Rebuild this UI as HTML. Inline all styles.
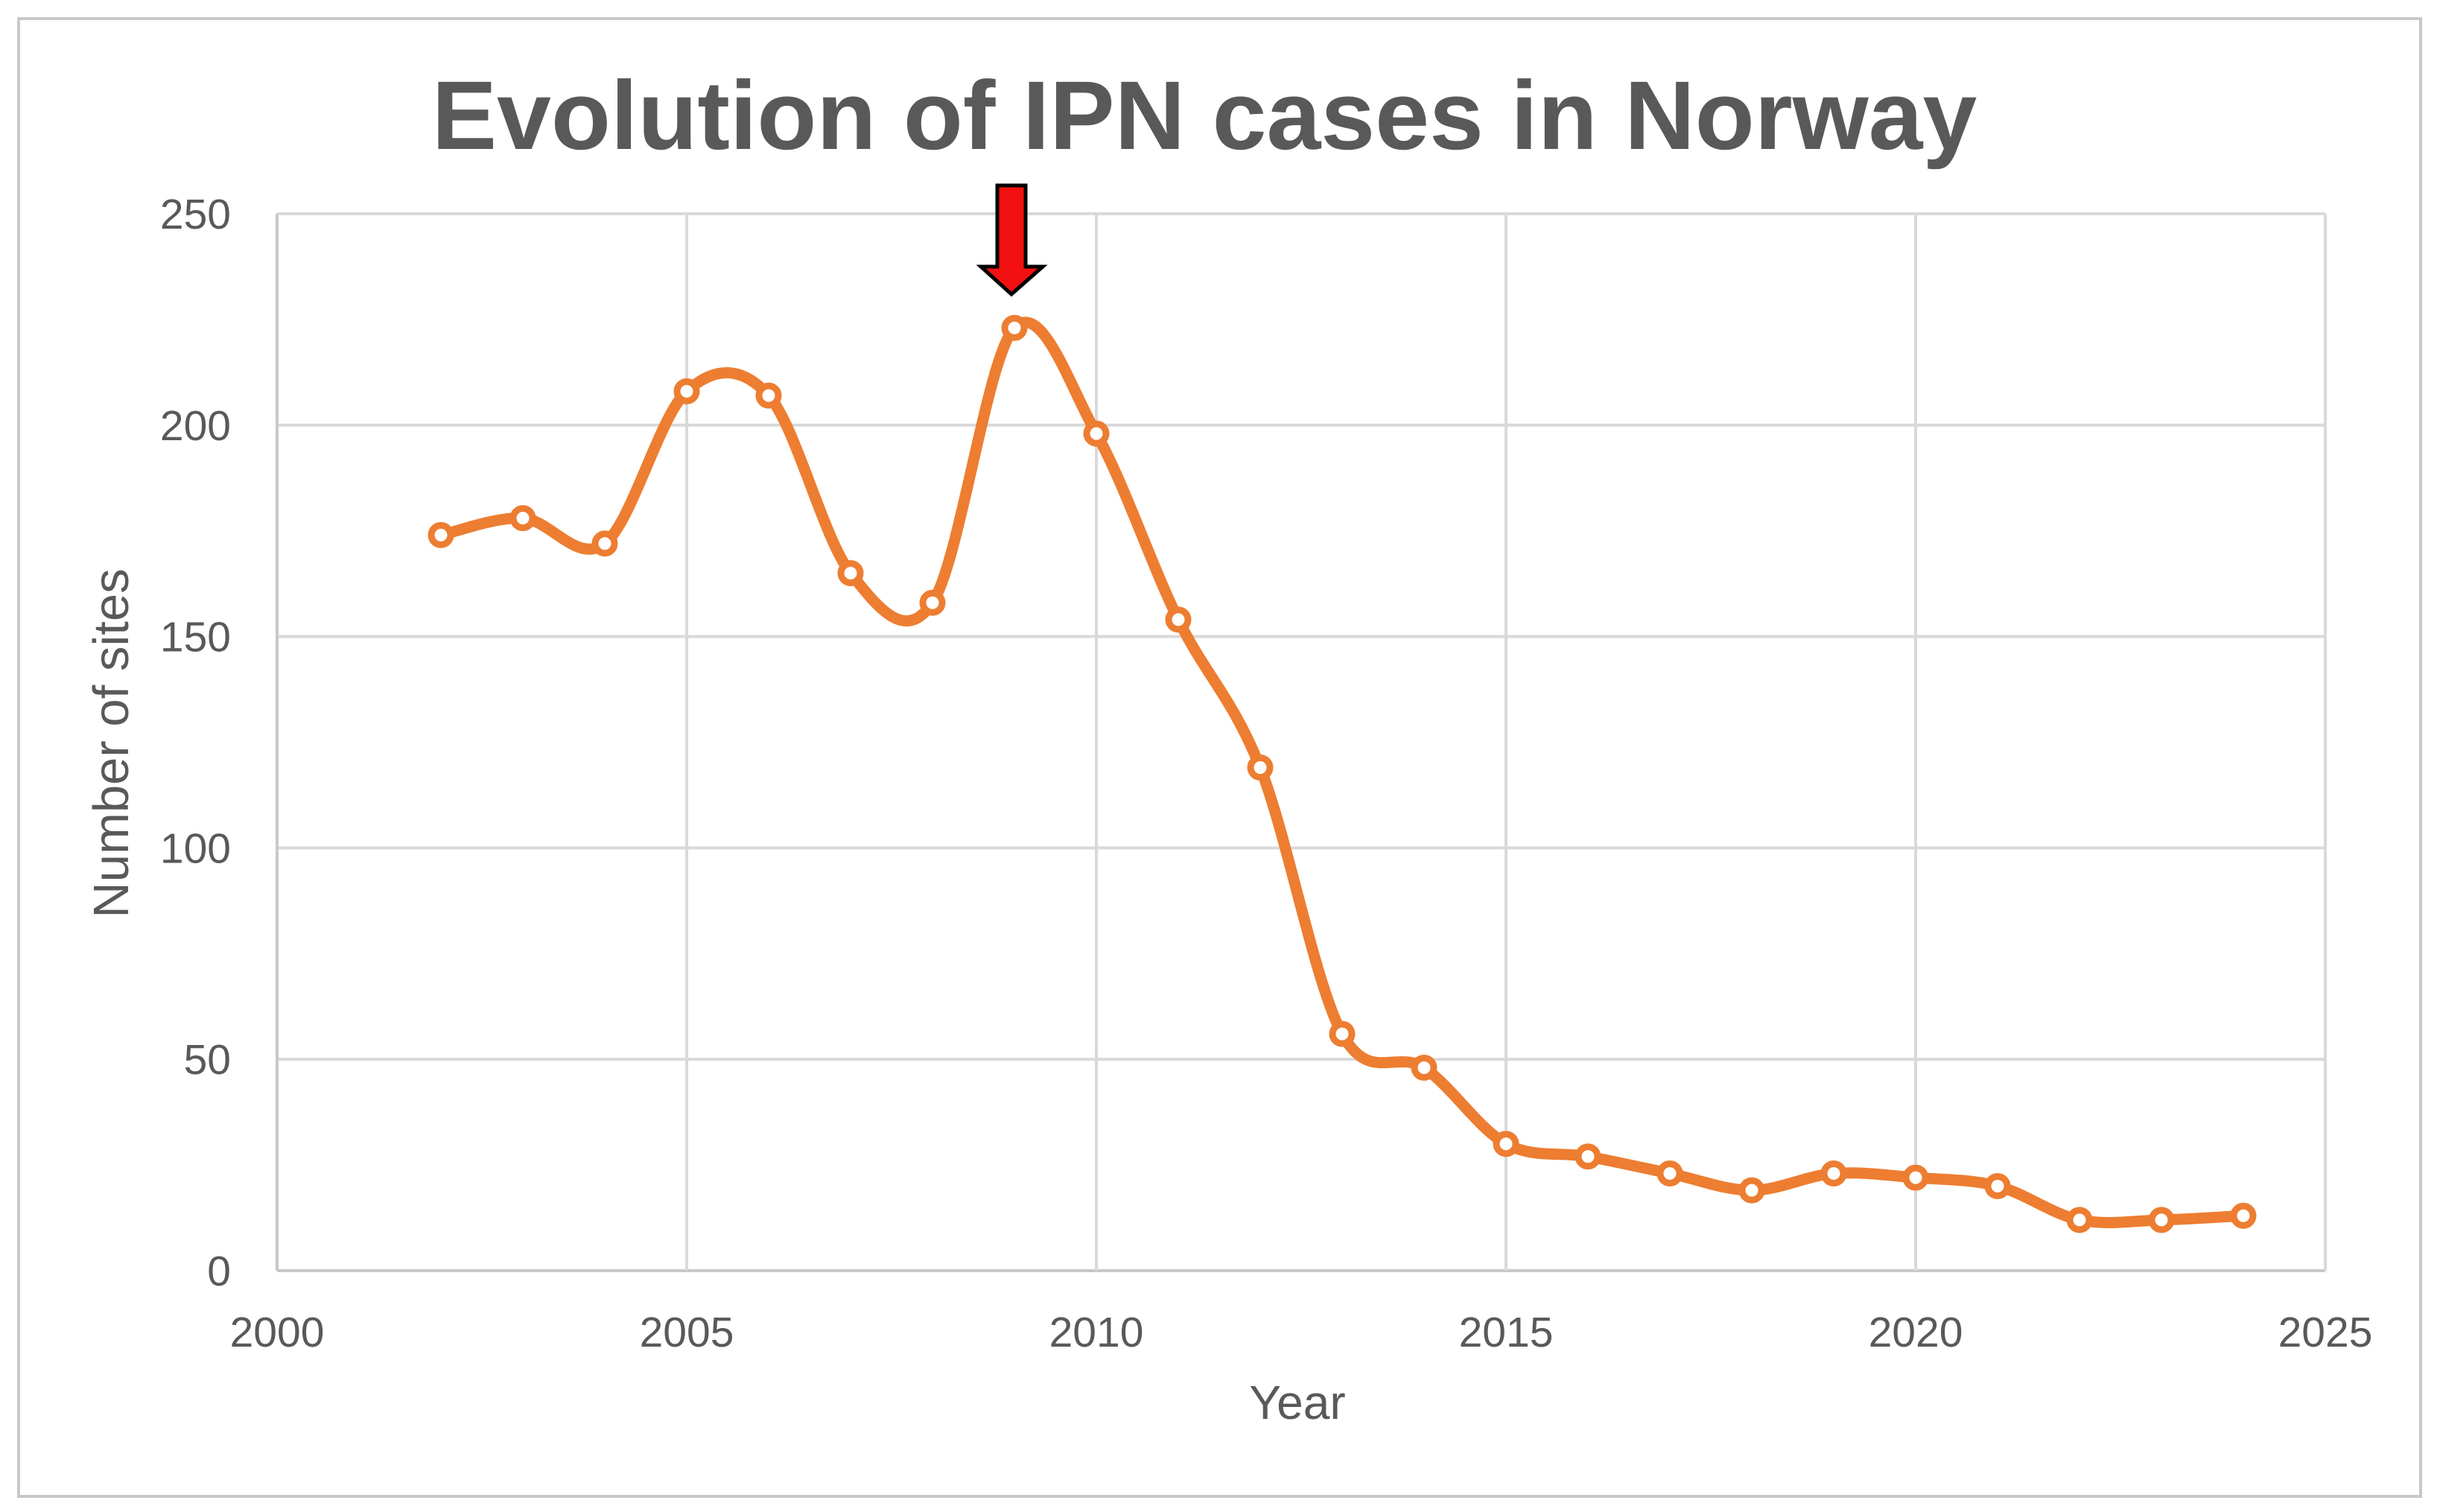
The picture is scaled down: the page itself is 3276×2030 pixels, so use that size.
<!DOCTYPE html>
<html><head><meta charset="utf-8"><style>
html,body{margin:0;padding:0;background:#fff;}
svg{display:block;font-family:"Liberation Sans",sans-serif;}
</style></head><body>
<svg id="chart" width="3276" height="2030">
<rect x="25" y="25" width="3225" height="1984" fill="#fff" stroke="#c8c8c8" stroke-width="4"/>
<text x="1617" y="200" text-anchor="middle" font-size="131" font-weight="bold" fill="#595959">Evolution of IPN cases in Norway</text>
<g id="grid"></g>
<g id="xt"></g><g id="yt"></g>
<text x="1742" y="1905" text-anchor="middle" font-size="64" fill="#595959">Year</text>
<text transform="translate(172,998) rotate(-90)" text-anchor="middle" font-size="67" fill="#595959">Number of sites</text>
<path id="line" fill="none" stroke="#ED7D31" stroke-width="15" stroke-linejoin="round" stroke-linecap="round"/>
<g id="pts"></g>
<polygon points="1339,249 1377,249 1377,358 1400,358 1358,395 1317,358 1339,358" fill="#f21010" stroke="#000" stroke-width="5" stroke-linejoin="miter"/>
</svg>
<script>
const years=[2002,2003,2004,2005,2006,2007,2008,2009,2010,2011,2012,2013,2014,2015,2016,2017,2018,2019,2020,2021,2022,2023,2024];
const cases=[174,178,172,208,207,165,158,223,198,154,119,56,48,30,27,23,19,23,22,20,12,12,13];
const xTicks=[2000,2005,2010,2015,2020,2025];
const yTicks=[0,50,100,150,200,250];
const L=372,R=3122,T=287,B=1706;
const sx=v=>L+(v-2000)/25*(R-L);
const sy=v=>B-v/250*(B-T);
const NS='http://www.w3.org/2000/svg';
const g=document.getElementById('grid'),xt=document.getElementById('xt'),yt=document.getElementById('yt');
function mk(t,a){const e=document.createElementNS(NS,t);for(const k in a)e.setAttribute(k,a[k]);return e;}
yTicks.forEach(v=>{
 const l=mk('line',{x1:L,x2:R,y1:sy(v),y2:sy(v),stroke:v===0?'#c8c8c8':'#d9d9d9','stroke-width':4});
 
 
 g.appendChild(l);
 const t=mk('text',{x:310,y:sy(v)+20,'text-anchor':'end','font-size':57,fill:'#595959'});t.textContent=v;
 
 
 yt.appendChild(t);
});
xTicks.forEach(v=>{
 const l=mk('line',{x1:sx(v),x2:sx(v),y1:T,y2:B,stroke:v===2000?'#c8c8c8':'#d9d9d9','stroke-width':4});
 
 
 g.appendChild(l);
 const t=mk('text',{x:sx(v),y:1808,'text-anchor':'middle','font-size':57,fill:'#595959'});t.textContent=v;
 
 
 xt.appendChild(t);
});
const P=years.map((y,i)=>[sx(y),sy(cases[i])]);
let d='M'+P[0][0]+','+P[0][1];
for(let i=0;i<P.length-1;i++){
 const p0=P[i-1]||P[i],p1=P[i],p2=P[i+1],p3=P[i+2]||P[i+1];
 const c1=[p1[0]+(p2[0]-p0[0])/6,p1[1]+(p2[1]-p0[1])/6];
 const c2=[p2[0]-(p3[0]-p1[0])/6,p2[1]-(p3[1]-p1[1])/6];
 d+=' C'+c1+' '+c2+' '+p2;
}
document.getElementById('line').setAttribute('d',d);
const pts=document.getElementById('pts');
P.forEach(p=>{
 const c=mk('circle',{cx:p[0],cy:p[1],r:13,fill:'#fff',stroke:'#ED7D31','stroke-width':9});
 
 
 pts.appendChild(c);
});
</script>
</body></html>
